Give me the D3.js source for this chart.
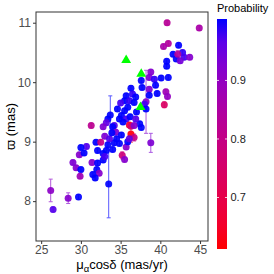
<!DOCTYPE html>
<html>
<head>
<meta charset="utf-8">
<script src="https://cdn.jsdelivr.net/npm/d3@7"></script>
<style>
  body { margin: 0; background: #fff; }
  svg { display: block; font-family: "Liberation Sans", Arial, sans-serif; }
</style>
</head>
<body>
<svg id="chart" width="274" height="274"></svg>
<script>
// proper motion in RA (mas/yr), parallax (mas), membership probability, parallax error
const pmra = [40.85, 44.9, 41.0, 40.4, 42.3, 41.6, 42.8, 42.0, 43.0, 43.7, 42.5, 40.8, 40.8, 42.2,
  38.8, 38.6, 40.1, 41.0, 39.25, 37.6, 39.4, 37.7, 38.6, 39.6, 40.7, 40.9, 40.5, 38.6,
  36.3, 36.5, 36.9, 35.7, 35.5, 36.1, 36.7, 38.2, 38.0, 38.2, 33.7, 35.9, 35.5, 35.1,
  34.85, 35.7, 36.2, 33.4, 33.2, 31.3, 36.1, 37.4, 34.2, 32.8, 34.0, 35.3, 36.3, 37.6,
  36.7, 36.3, 36.7, 38.8, 33.0, 34.4, 35.1, 34.85, 35.7, 34.2, 33.4, 31.9, 32.5, 32.1,
  32.8, 33.2, 30.7, 30.0, 29.8, 30.4, 29.0, 29.4, 30.0, 29.9, 31.4, 32.1, 32.0, 32.3,
  31.5, 31.8, 32.8, 33.0, 35.2, 35.5, 33.5, 26.2, 28.4, 29.7, 26.5, 34.5, 33.6, 35.9,
  34.0, 36.1, 37.0, 36.9, 34.6, 35.0, 33.9];
const parallax = [11.0, 10.91, 10.65, 10.6, 10.62, 10.47, 10.5, 10.39, 10.42, 10.42, 10.36, 10.35, 10.27, 10.47,
  10.17, 10.08, 10.07, 10.08, 10.05, 10.03, 9.95, 9.91, 9.88, 9.81, 9.84, 9.76, 9.62, 9.78,
  9.9, 9.8, 9.75, 9.77, 9.69, 9.69, 9.66, 9.67, 9.63, 9.55, 9.45, 9.58, 9.52, 9.44,
  9.38, 9.38, 9.42, 9.38, 9.32, 9.27, 9.28, 9.30, 9.27, 9.25, 9.25, 9.33, 9.26, 9.24,
  9.27, 9.13, 9.07, 8.98, 9.09, 9.16, 9.11, 8.97, 8.91, 8.98, 8.95, 8.99, 8.99, 8.85,
  8.80, 8.85, 8.92, 8.90, 8.78, 8.81, 8.65, 8.56, 8.53, 8.42, 8.65, 8.64, 8.53, 8.47,
  8.45, 8.39, 8.69, 8.75, 8.77, 8.70, 8.29, 8.18, 8.05, 8.07, 7.86, 9.05, 9.05, 9.0,
  8.87, 9.05, 9.5, 9.38, 9.55, 9.65, 9.15];
const prob = [0.83, 0.86, 0.84, 0.86, 1.0, 1.0, 0.99, 1.0, 0.98, 0.92, 0.94, 1.0, 1.0, 0.84,
  0.92, 0.93, 1.0, 1.0, 0.99, 1.0, 1.0, 1.0, 0.93, 1.0, 0.88, 0.9, 0.74, 1.0,
  1.0, 0.99, 1.0, 1.0, 1.0, 0.99, 1.0, 0.92, 0.98, 1.0, 1.0, 1.0, 1.0, 1.0,
  1.0, 0.98, 1.0, 1.0, 0.96, 0.82, 0.65, 1.0, 0.97, 0.93, 1.0, 1.0, 0.76, 1.0,
  0.92, 0.62, 0.8, 0.93, 0.93, 0.93, 1.0, 1.0, 0.92, 1.0, 1.0, 1.0, 0.8, 1.0,
  1.0, 1.0, 0.97, 1.0, 0.92, 1.0, 0.93, 0.92, 1.0, 0.88, 0.92, 1.0, 1.0, 0.92,
  1.0, 1.0, 1.0, 0.98, 0.78, 0.92, 1.0, 0.91, 0.92, 1.0, 0.97, 1.0, 0.97, 1.0,
  1.0, 0.96, 1.0, 0.97, 1.0, 0.98, 1.0];
const parallaxErr = [0.04, 0.04, 0.04, 0.04, 0.04, 0.04, 0.04, 0.04, 0.04, 0.04, 0.04, 0.04, 0.04, 0.06,
  0.04, 0.04, 0.04, 0.04, 0.04, 0.04, 0.04, 0.04, 0.04, 0.04, 0.04, 0.04, 0.05, 0.04,
  0.04, 0.04, 0.04, 0.04, 0.04, 0.04, 0.04, 0.53, 0.04, 0.04, 0.32, 0.04, 0.04, 0.04,
  0.04, 0.04, 0.04, 0.04, 0.04, 0.04, 0.04, 0.04, 0.04, 0.04, 0.04, 0.04, 0.04, 0.04,
  0.04, 0.14, 0.06, 0.16, 0.04, 0.04, 0.04, 0.04, 0.04, 0.04, 0.04, 0.04, 0.04, 0.04,
  0.04, 0.04, 0.04, 0.04, 0.04, 0.04, 0.04, 0.04, 0.04, 0.04, 0.04, 0.04, 0.04, 0.04,
  0.04, 0.04, 0.04, 0.04, 0.06, 0.04, 0.57, 0.19, 0.09, 0.04, 0.04, 0.04, 0.04, 0.04,
  0.04, 0.04, 0.04, 0.04, 0.04, 0.04, 0.04];

// green triangles (reference stars)
const refPmra = [35.7, 37.6, 37.5];
const refParallax = [10.37, 10.14, 9.58];

const xTicks = [25, 30, 35, 40, 45];
const yTicks = [8, 9, 10, 11];
const probTicks = [0.7, 0.8, 0.9];

const stars = pmra.map((d, i) => ({x: d, y: parallax[i], p: prob[i], e: parallaxErr[i]}));
const refs = refPmra.map((d, i) => ({x: d, y: refParallax[i]}));

const svg = d3.select('#chart');
const panel = {left: 36, top: 12, right: 208, bottom: 241};

const x = d3.scaleLinear().domain([24.35, 46.0]).range([panel.left, panel.right]);
const y = d3.scaleLinear().domain([7.33, 11.18]).range([panel.bottom, panel.top]);
const color = d3.scaleLinear().domain([0.612, 1.0]).range(['red', 'blue'])
  .interpolate(d3.interpolateLab).clamp(true);

// axes
const xAxis = svg.append('g').attr('transform', `translate(0,${panel.bottom})`)
  .call(d3.axisBottom(x).tickValues(xTicks).tickSize(3).tickPadding(1.5).tickFormat(d3.format('d')));
const yAxis = svg.append('g').attr('transform', `translate(${panel.left},0)`)
  .call(d3.axisLeft(y).tickValues(yTicks).tickSize(3).tickPadding(2).tickFormat(d3.format('d')));
[xAxis, yAxis].forEach(g => {
  g.select('.domain').remove();
  g.selectAll('line').attr('stroke', '#333');
  g.selectAll('text').attr('fill', '#4d4d4d').style('font-size', '12px')
    .style('font-family', '"Liberation Sans", Arial, sans-serif');
});

svg.append('rect')
  .attr('x', panel.left).attr('y', panel.top)
  .attr('width', panel.right - panel.left).attr('height', panel.bottom - panel.top)
  .attr('fill', 'none').attr('stroke', '#333').attr('stroke-width', 1);

// error bars
const eb = svg.append('g').attr('stroke-width', 1).attr('opacity', 0.65);
stars.forEach(d => {
  const c = color(d.p), cx = x(d.x);
  const y0 = y(d.y - d.e), y1 = y(d.y + d.e);
  eb.append('line').attr('x1', cx).attr('x2', cx).attr('y1', y0).attr('y2', y1).attr('stroke', c);
  eb.append('line').attr('x1', cx - 2).attr('x2', cx + 2).attr('y1', y0).attr('y2', y0).attr('stroke', c);
  eb.append('line').attr('x1', cx - 2).attr('x2', cx + 2).attr('y1', y1).attr('y2', y1).attr('stroke', c);
});

// points
svg.append('g').selectAll('circle')
  .data(stars)
  .join('circle')
  .attr('cx', d => x(d.x))
  .attr('cy', d => y(d.y))
  .attr('r', 3.5)
  .attr('fill', d => color(d.p))
  .attr('opacity', 0.92);

svg.append('g').selectAll('path')
  .data(refs)
  .join('path')
  .attr('d', d3.symbol(d3.symbolTriangle, 42))
  .attr('transform', d => `translate(${x(d.x)},${y(d.y)})`)
  .attr('fill', '#00ff00');

// axis titles
const xt = svg.append('text')
  .attr('x', (panel.left + panel.right) / 2).attr('y', 269)
  .attr('text-anchor', 'middle').style('font-size', '13px').attr('fill', '#000');
xt.append('tspan').text('μ');
xt.append('tspan').text('α').attr('dy', 2.5).style('font-size', '9.5px');
xt.append('tspan').text('cosδ (mas/yr)').attr('dy', -2.5);

svg.append('text')
  .attr('transform', `translate(15,${(panel.top + panel.bottom) / 2}) rotate(-90)`)
  .attr('text-anchor', 'middle').style('font-size', '13px').attr('fill', '#000')
  .text('ϖ (mas)');

// colour bar
const bar = {x: 217, w: 10, top: 19, bottom: 249};
const barDomain = [0.612, 1.005];
const cy = d3.scaleLinear().domain(barDomain).range([bar.bottom, bar.top]);
const defs = svg.append('defs');
const grad = defs.append('linearGradient').attr('id', 'pgrad')
  .attr('x1', 0).attr('y1', 1).attr('x2', 0).attr('y2', 0);
d3.range(0, 1.0001, 0.1).forEach(t => {
  const v = barDomain[0] + t * (barDomain[1] - barDomain[0]);
  grad.append('stop').attr('offset', t).attr('stop-color', color(v));
});
svg.append('rect').attr('x', bar.x).attr('y', bar.top)
  .attr('width', bar.w).attr('height', bar.bottom - bar.top)
  .attr('fill', 'url(#pgrad)');
probTicks.forEach(v => {
  const ty = cy(v);
  svg.append('line').attr('x1', bar.x).attr('x2', bar.x + 2).attr('y1', ty).attr('y2', ty)
    .attr('stroke', '#fff').attr('stroke-opacity', 0.8);
  svg.append('line').attr('x1', bar.x + bar.w - 2).attr('x2', bar.x + bar.w).attr('y1', ty).attr('y2', ty)
    .attr('stroke', '#fff').attr('stroke-opacity', 0.8);
  svg.append('text').attr('x', bar.x + bar.w + 3.5).attr('y', ty + 4)
    .style('font-size', '11px').attr('fill', '#1a1a1a').text(v.toFixed(1));
});
svg.append('text').attr('x', bar.x).attr('y', 12)
  .style('font-size', '11px').attr('fill', '#000').text('Probability');
</script>
</body>
</html>
